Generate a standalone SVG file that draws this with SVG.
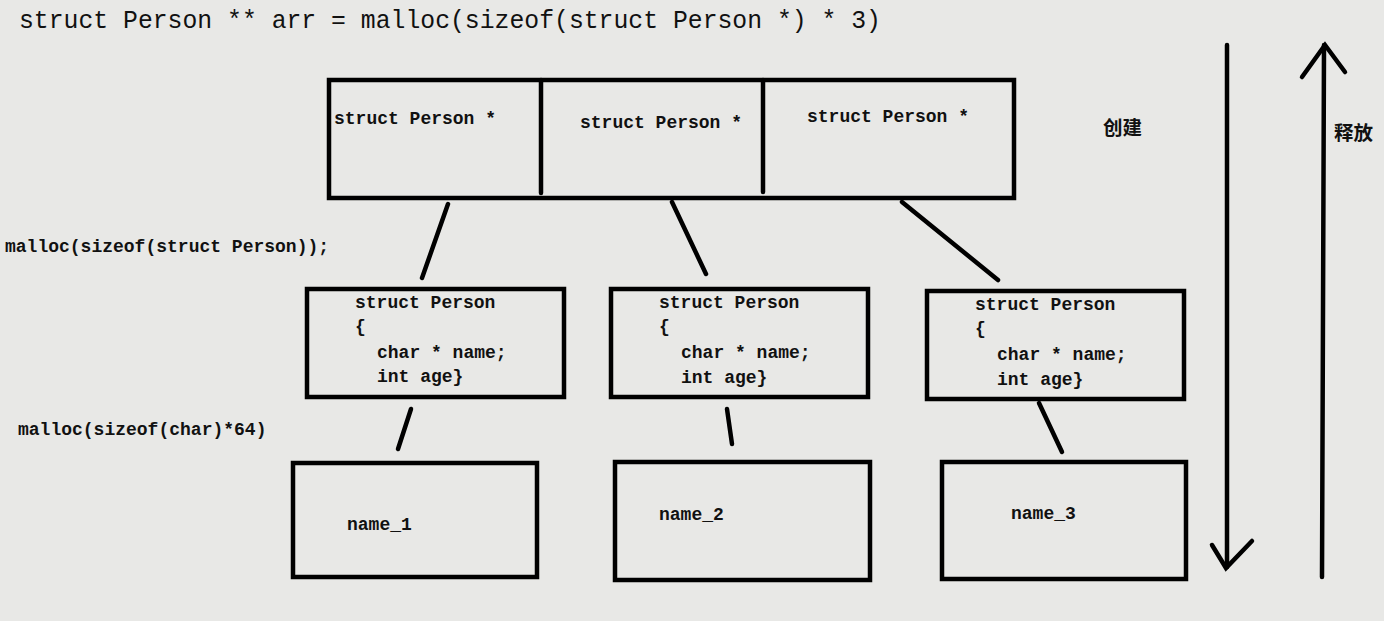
<svg xmlns="http://www.w3.org/2000/svg" width="1384" height="621" viewBox="0 0 1384 621">
<style>
.bg{fill:#e8e8e6}
.box{fill:none;stroke:#000;stroke-width:4.5}
.ln{stroke:#000;stroke-width:4.5;stroke-linecap:round;fill:none}
.t{font-family:"Liberation Mono","DejaVu Sans Mono",monospace;font-size:18px;font-weight:bold;fill:#111}
.title{font-family:"Liberation Mono","DejaVu Sans Mono",monospace;font-size:25px;fill:#111}
.cn{font-family:"Noto Sans CJK SC",sans-serif;font-size:19.5px;font-weight:bold;fill:#111}
</style>
<rect class="bg" x="0" y="0" width="1384" height="621"/>
<text class="title" x="19" y="28" textLength="862" lengthAdjust="spacingAndGlyphs">struct Person ** arr = malloc(sizeof(struct Person *) * 3)</text>
<g id="array">
<rect class="box" x="329" y="80" width="685" height="118"/>
<line class="ln" x1="541" y1="80" x2="541" y2="193"/>
<line class="ln" x1="763" y1="80" x2="763" y2="192"/>
<text class="t" x="334" y="124">struct Person *</text>
<text class="t" x="580" y="128">struct Person *</text>
<text class="t" x="807" y="122">struct Person *</text>
</g>
<text class="t" x="5" y="252">malloc(sizeof(struct Person));</text>
<text class="t" x="18" y="435">malloc(sizeof(char)*64)</text>
<g id="person1">
<rect class="box" x="307" y="289" width="257" height="108"/>
<text class="t" x="355" y="308">struct Person</text>
<text class="t" x="355" y="332">{</text>
<text class="t" x="377" y="358">char * name;</text>
<text class="t" x="377" y="382">int age}</text>
</g>
<g id="person2">
<rect class="box" x="611" y="289" width="257" height="108"/>
<text class="t" x="659" y="308">struct Person</text>
<text class="t" x="659" y="332">{</text>
<text class="t" x="681" y="358">char * name;</text>
<text class="t" x="681" y="383">int age}</text>
</g>
<g id="person3">
<rect class="box" x="927" y="291" width="257" height="108"/>
<text class="t" x="975" y="310">struct Person</text>
<text class="t" x="975" y="334">{</text>
<text class="t" x="997" y="360">char * name;</text>
<text class="t" x="997" y="385">int age}</text>
</g>
<g id="name1">
<rect class="box" x="293" y="463" width="244" height="114"/>
<text class="t" x="347" y="530">name_1</text>
</g>
<g id="name2">
<rect class="box" x="615" y="462" width="255" height="118"/>
<text class="t" x="659" y="520">name_2</text>
</g>
<g id="name3">
<rect class="box" x="942" y="462" width="244" height="117"/>
<text class="t" x="1011" y="519">name_3</text>
</g>
<g id="connectors">
<line class="ln" x1="448" y1="204" x2="422" y2="278"/>
<line class="ln" x1="672" y1="202" x2="706" y2="274"/>
<line class="ln" x1="902" y1="202" x2="998" y2="280"/>
<line class="ln" x1="411" y1="409" x2="398" y2="449"/>
<line class="ln" x1="727" y1="409" x2="732" y2="444"/>
<line class="ln" x1="1039" y1="403" x2="1062" y2="452"/>
</g>
<g id="create">
<line class="ln" x1="1227" y1="45" x2="1227" y2="567"/>
<polyline class="ln" points="1212,545 1226,568 1252,541"/>
<text class="cn" x="1103" y="135">创建</text>
</g>
<g id="release">
<line class="ln" x1="1322" y1="577" x2="1324" y2="45"/>
<polyline class="ln" points="1302,77 1325,45 1345,72"/>
<text class="cn" x="1334" y="140">释放</text>
</g>
</svg>
